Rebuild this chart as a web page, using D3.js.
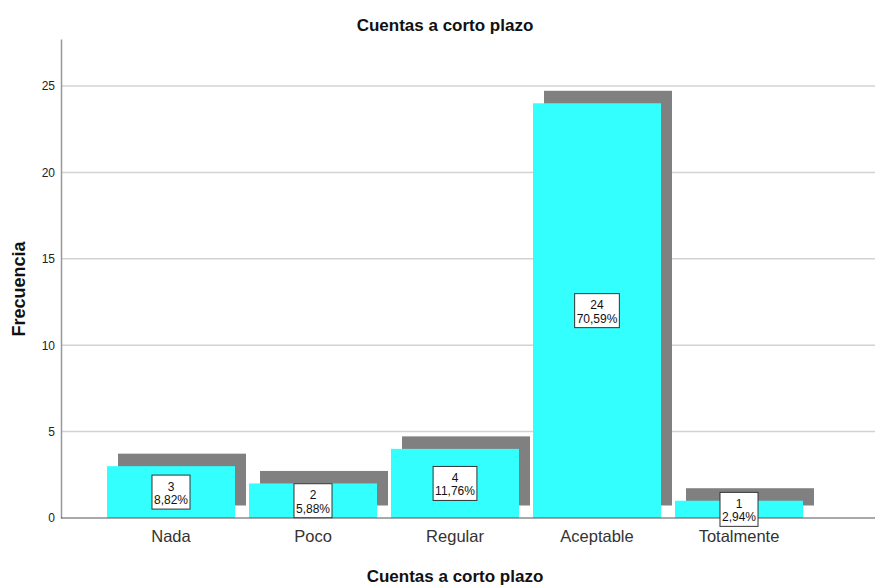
<!DOCTYPE html>
<html><head><meta charset="utf-8">
<script src="https://cdn.jsdelivr.net/npm/d3@7"></script>
<style>body{margin:0;background:#fff;} text{font-family:"Liberation Sans",Arial,sans-serif;}</style>
</head><body>
<svg id="chart" width="875" height="586"></svg>
<script>
const categories = ["Nada","Poco","Regular","Aceptable","Totalmente"];
const counts = [3,2,4,24,1];
const percents = ["8,82%","5,88%","11,76%","70,59%","2,94%"];
const yTicks = [0,5,10,15,20,25];
const title = "Cuentas a corto plazo";
const xTitle = "Cuentas a corto plazo";
const yTitle = "Frecuencia";

const svg = d3.select("#chart");
const x0 = 61, xEnd = 875, yBase = 518, yTop = 39;
const x = d3.scaleBand().domain(categories).range([100, 810]).paddingInner(14/142).paddingOuter(7/142);
const y = d3.scaleLinear().domain([0, 27.72]).range([yBase, yTop]);

// grid
svg.append("g").selectAll("line").data(yTicks.filter(d=>d>0)).join("line")
  .attr("x1", x0+1).attr("x2", xEnd).attr("y1", d=>y(d)).attr("y2", d=>y(d))
  .attr("stroke", "#d3d3d3").attr("stroke-width", 1.5);

// y axis
const yAxis = d3.axisLeft(y).tickValues(yTicks).tickSize(0).tickPadding(6);
const gy = svg.append("g").attr("transform", `translate(${x0},0)`).call(yAxis);
gy.select(".domain").attr("stroke", "#999").attr("stroke-width", 1.5);
gy.selectAll("text").attr("font-size", 12).attr("fill", "#222").attr("font-family", "Liberation Sans, Arial, sans-serif");

const dx = 11, dy = -12.5;
// shadows
svg.append("g").selectAll("rect").data(categories).join("rect")
  .attr("x", d=>x(d)+dx).attr("width", x.bandwidth())
  .attr("y", (d,i)=>y(counts[i])+dy).attr("height", (d,i)=>yBase - y(counts[i]))
  .attr("fill", "#808080");
// bars
svg.append("g").selectAll("rect").data(categories).join("rect")
  .attr("x", d=>x(d)).attr("width", x.bandwidth())
  .attr("y", (d,i)=>y(counts[i])).attr("height", (d,i)=>yBase - y(counts[i]))
  .attr("fill", "#33ffff");

// baseline / x axis
const xAxis = d3.axisBottom(x).tickSize(0).tickPadding(12);
const gx = svg.append("g").attr("transform", `translate(0,${yBase})`).call(xAxis);
gx.select(".domain").remove();
gx.selectAll("text").attr("font-size", 16.5).attr("fill", "#333").attr("font-family", "Liberation Sans, Arial, sans-serif");
svg.append("line").attr("x1", x0).attr("x2", xEnd).attr("y1", yBase).attr("y2", yBase)
  .attr("stroke", "#555").attr("stroke-width", 1.2);

// labels
const lab = svg.append("g").selectAll("g").data(categories).join("g")
  .attr("transform", (d,i)=>`translate(${x(d)+x.bandwidth()/2},${(y(counts[i])+yBase)/2})`);
lab.each(function(d,i){
  const g = d3.select(this);
  const r = g.append("rect").attr("fill","#fff").attr("stroke","#333").attr("stroke-width",1);
  const t1 = g.append("text").attr("text-anchor","middle").attr("y",-1.5).attr("font-size",12).attr("fill","#111").text(counts[i]);
  const t2 = g.append("text").attr("text-anchor","middle").attr("y",12).attr("font-size",12).attr("fill","#111").text(percents[i]);
  const w = Math.max(t1.node().getComputedTextLength(), t2.node().getComputedTextLength()) + 4;
  r.attr("x", -w/2).attr("y", -17).attr("width", w).attr("height", 34);
});

// titles
svg.append("text").attr("x", 445).attr("y", 31).attr("text-anchor","middle")
  .attr("font-size",17).attr("font-weight","bold").attr("fill","#111").text(title);
svg.append("text").attr("x", 455).attr("y", 582).attr("text-anchor","middle")
  .attr("font-size",17).attr("font-weight","bold").attr("fill","#111").text(xTitle);
svg.append("text").attr("transform","translate(25,289) rotate(-90)").attr("text-anchor","middle")
  .attr("font-size",18).attr("font-weight","bold").attr("fill","#111").text(yTitle);
</script>
</body></html>
